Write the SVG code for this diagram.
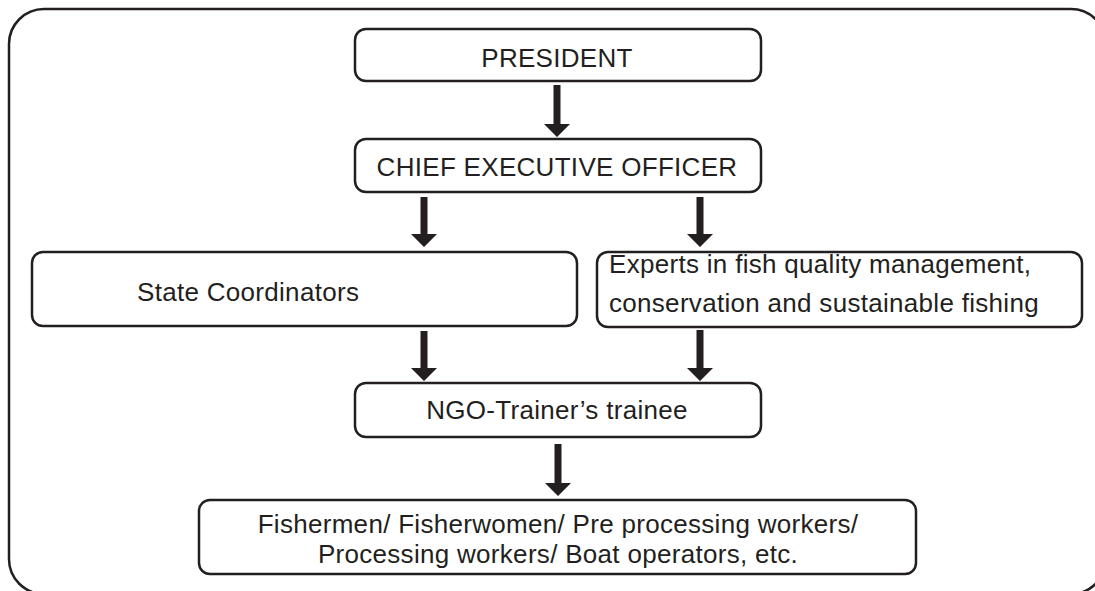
<svg xmlns="http://www.w3.org/2000/svg" width="1095" height="591" viewBox="0 0 1095 591">
  <defs>
    <style>
      .frame { fill: none; stroke: #231f20; stroke-width: 2.5; }
      .box { fill: #ffffff; stroke: #231f20; stroke-width: 2.5; }
      .label { font-family: "Liberation Sans", Arial, Helvetica, sans-serif; font-size: 26px; fill: #231f20; letter-spacing: 0.3px; }
      .mid { text-anchor: middle; }
      .arrow { fill: #231f20; stroke: none; }
    </style>
  </defs>
  <rect width="1095" height="591" fill="#ffffff"/>

  <!-- outer frame -->
  <rect class="frame" x="9" y="9" width="1097" height="585" rx="35" ry="35"/>

  <!-- connectors -->
  <g id="connectors">
    <path class="arrow" d="M553.5 85 H560.5 V124 H570 L557 137 L544 124 H553.5 Z"/>
    <path class="arrow" d="M420.5 197 H427.5 V234 H437 L424 247 L411 234 H420.5 Z"/>
    <path class="arrow" d="M696.5 197 H703.5 V234 H713 L700 247 L687 234 H696.5 Z"/>
    <path class="arrow" d="M420.5 331 H427.5 V368 H437 L424 381 L411 368 H420.5 Z"/>
    <path class="arrow" d="M696.5 330 H703.5 V368 H713 L700 381 L687 368 H696.5 Z"/>
    <path class="arrow" d="M554.5 444 H561.5 V483 H571 L558 496 L545 483 H554.5 Z"/>
  </g>

  <g id="president">
    <rect class="box" x="355" y="29" width="406" height="52" rx="11"/>
    <text class="label mid" x="557" y="67">PRESIDENT</text>
  </g>

  <g id="ceo">
    <rect class="box" x="355" y="139" width="406" height="53" rx="11"/>
    <text class="label mid" x="557" y="176">CHIEF EXECUTIVE OFFICER</text>
  </g>

  <g id="state-coordinators">
    <rect class="box" x="32" y="252" width="545" height="74" rx="11"/>
    <text class="label" x="137" y="301">State Coordinators</text>
  </g>

  <g id="experts">
    <rect class="box" x="597" y="252" width="485" height="75" rx="11"/>
    <text class="label" x="609" y="273">Experts in fish quality management,</text>
    <text class="label" x="609" y="312">conservation and sustainable fishing</text>
  </g>

  <g id="ngo-trainee">
    <rect class="box" x="355" y="383" width="406" height="54" rx="11"/>
    <text class="label mid" x="557" y="419">NGO-Trainer’s trainee</text>
  </g>

  <g id="workers">
    <rect class="box" x="199" y="500" width="717" height="74" rx="11"/>
    <text class="label mid" x="558" y="533">Fishermen/ Fisherwomen/ Pre processing workers/</text>
    <text class="label mid" x="558" y="563">Processing workers/ Boat operators, etc.</text>
  </g>
</svg>
